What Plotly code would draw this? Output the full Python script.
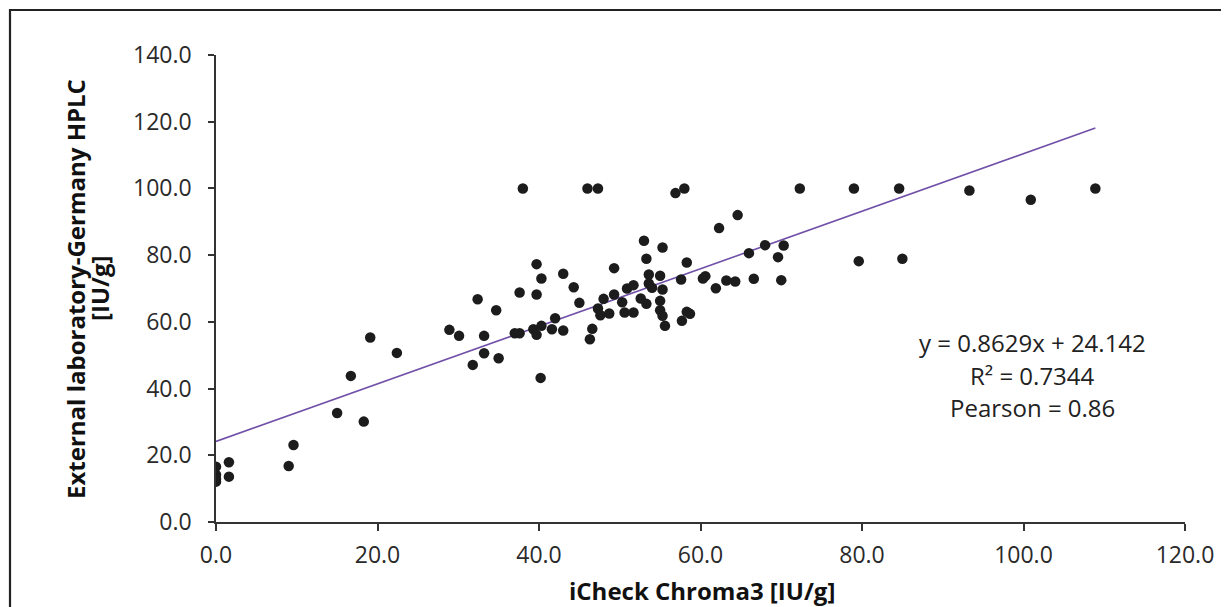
import plotly.graph_objects as go

# iCheck Chroma3 [IU/g]
x_vals = [0.0, 0.0, 0.0, 0.0, 1.6, 1.6, 9.0, 9.6, 15.0, 16.7, 18.3, 19.1, 22.4,
          28.9, 30.1, 31.8, 32.4, 33.2, 33.2, 34.7, 35.0, 37.0, 37.6, 37.6, 38.0,
          39.3, 39.7, 39.7, 39.7, 40.3, 40.3, 40.2, 41.6, 42.0, 43.0, 43.0, 44.3,
          45.0, 46.0, 46.3, 46.6, 47.3, 47.3, 47.6, 48.0, 48.7, 49.3, 49.3, 50.3,
          50.6, 50.9, 51.7, 51.7, 52.6, 53.0, 53.3, 53.3, 53.6, 53.6, 54.0, 55.0,
          55.0, 55.0, 55.3, 55.3, 55.3, 55.6, 56.9, 57.6, 57.7, 58.0, 58.3, 58.3,
          58.7, 60.3, 60.6, 61.9, 62.3, 63.2, 64.3, 64.6, 66.0, 66.6, 68.0, 69.6,
          70.0, 70.3, 72.3, 79.0, 79.6, 84.6, 85.0, 93.3, 100.9, 108.9]
# External laboratory HPLC [IU/g]
y_vals = [16.6, 14.2, 12.9, 12.1, 17.9, 13.6, 16.8, 23.1, 32.7, 43.8, 30.1, 55.3, 50.7,
          57.6, 55.8, 47.1, 66.8, 55.8, 50.6, 63.5, 49.1, 56.6, 56.6, 68.8, 100.0,
          57.8, 56.1, 68.2, 77.3, 73.0, 58.8, 43.2, 57.8, 61.1, 57.4, 74.4, 70.4,
          65.7, 100.0, 54.8, 57.9, 100.0, 64.0, 62.0, 66.9, 62.5, 68.2, 76.1, 65.9,
          62.8, 70.0, 71.0, 62.8, 67.0, 84.3, 78.9, 65.4, 74.2, 71.5, 70.2, 73.8,
          66.3, 63.5, 82.3, 69.7, 61.8, 58.8, 98.6, 72.7, 60.3, 100.0, 77.8, 63.0,
          62.4, 73.0, 73.7, 70.1, 88.1, 72.4, 72.1, 92.0, 80.6, 72.9, 83.0, 79.4,
          72.5, 82.9, 100.0, 100.0, 78.2, 100.0, 78.9, 99.4, 96.6, 100.0]

slope = 0.8629
intercept = 24.142
x_ticks = [0, 20, 40, 60, 80, 100, 120]
y_ticks = [0, 20, 40, 60, 80, 100, 120, 140]
stats_text = ["y = 0.8629x + 24.142", "R² = 0.7344", "Pearson = 0.86"]
x_title = "iCheck Chroma3 [IU/g]"
y_title_lines = ["External laboratory-Germany HPLC", "[IU/g]"]

FONT = "Open Sans"
TICK_SIZE = 23
TITLE_SIZE = 24

# page has an 8px body margin; plot area sits at page x 216..1185, y 55..522
PW, PH = 969, 467


def px(xp):
    return (xp - 216) / PW


def py(yp):
    return (522 - yp) / PH


trend_x = [min(x_vals), max(x_vals)]
trend_y = [slope * v + intercept for v in trend_x]

fig = go.Figure()
fig.add_trace(go.Scatter(
    x=trend_x, y=trend_y, mode="lines",
    line=dict(color="#7050a8", width=1.6),
    hoverinfo="skip", showlegend=False,
))
fig.add_trace(go.Scatter(
    x=x_vals, y=y_vals, mode="markers",
    marker=dict(color="#1c1c1c", size=10.5, line=dict(width=0)),
    showlegend=False,
))

fig.update_layout(
    width=1221, height=599,
    margin=dict(l=208, r=44, t=47, b=85, autoexpand=False),
    paper_bgcolor="white", plot_bgcolor="white",
    font=dict(family=FONT, color="#222222", size=TICK_SIZE),
    showlegend=False,
)
fig.update_xaxes(
    range=[0, 120], tickvals=x_ticks, tickformat=".1f",
    showgrid=False, zeroline=False,
    showline=True, linecolor="#333333", linewidth=1.5,
    ticks="outside", ticklen=7, tickwidth=1.5, tickcolor="#333333",
    ticklabelstandoff=5,
    tickfont=dict(family=FONT, size=TICK_SIZE, color="#2a2a2a"),
)
fig.update_yaxes(
    range=[0, 140], tickvals=y_ticks, tickformat=".1f",
    showgrid=False, zeroline=False,
    showline=True, linecolor="#333333", linewidth=1.5,
    ticks="outside", ticklen=6, tickwidth=1.5, tickcolor="#333333",
    ticklabelstandoff=12,
    tickfont=dict(family=FONT, size=TICK_SIZE, color="#2a2a2a"),
)

# x-axis title
fig.add_annotation(
    xref="paper", yref="paper", x=px(702), y=py(590),
    text="<b>%s</b>" % x_title, showarrow=False,
    xanchor="center", yanchor="middle",
    font=dict(family=FONT, size=TITLE_SIZE, color="#111111"),
)
# y-axis title (two lines)
for line_text, xpos in zip(y_title_lines, [75, 99]):
    fig.add_annotation(
        xref="paper", yref="paper", x=px(xpos), y=py(289),
        text="<b>%s</b>" % line_text, showarrow=False, textangle=-90,
        xanchor="center", yanchor="middle",
        font=dict(family=FONT, size=TITLE_SIZE, color="#111111"),
    )

# regression statistics
for line_text, ypos in zip(stats_text, [342, 375, 408]):
    fig.add_annotation(
        xref="paper", yref="paper", x=px(1032), y=py(ypos),
        text=line_text, showarrow=False,
        xanchor="center", yanchor="middle",
        font=dict(family=FONT, size=TITLE_SIZE, color="#222222"),
    )

# outer chart border
fig.add_shape(
    type="rect", xref="paper", yref="paper",
    x0=px(10), x1=px(1260), y0=py(640), y1=py(10),
    line=dict(color="#222222", width=2.2), fillcolor="rgba(0,0,0,0)",
    layer="below",
)

fig.write_html("out.html")
